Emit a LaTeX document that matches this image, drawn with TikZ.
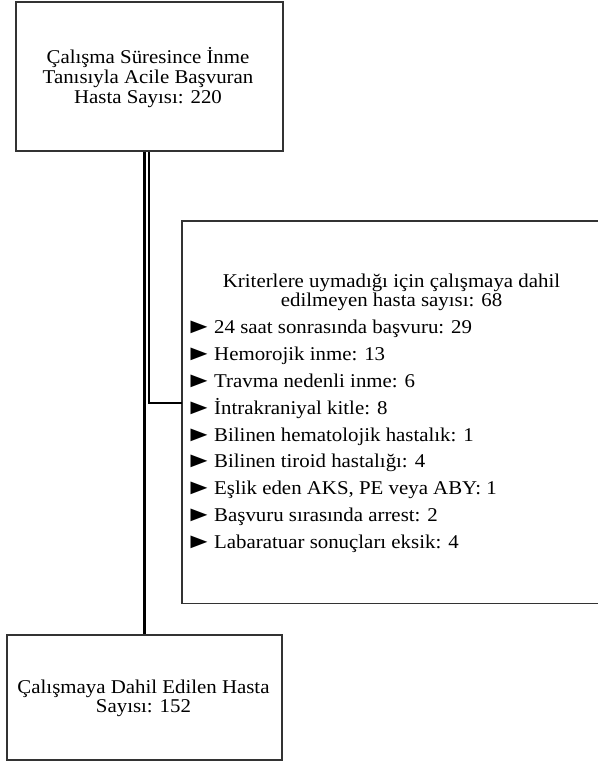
\documentclass[tikz,border=0pt]{standalone}
\usepackage{fontspec}
\setmainfont{Liberation Serif}[FakeStretch=1.07]
\begin{document}
\begin{tikzpicture}[x=1pt,y=-1pt,
  boxframe/.style={draw=black!80,line width=1.4pt},
  linkline/.style={draw=black,line width=2.6pt},
  txt/.style={font=\fontsize{19.5}{20}\selectfont,inner sep=0pt,align=center},
  item/.style={font=\fontsize{19.5}{20}\selectfont,inner sep=0pt,anchor=base west}]
\useasboundingbox (0,0) rectangle (597,762);
% boxes
\node[boxframe,minimum width=267pt,minimum height=149pt,inner sep=0pt] (top) at (149.5,76.5) {};
\node[txt] (toptxt) at (148,77.5) {Çalışma Süresince İnme\\Tanısıyla Acile Başvuran\\Hasta Sayısı: 220};
\node[boxframe,minimum width=275pt,minimum height=125pt,inner sep=0pt] (bot) at (144.5,697.5) {};
\node[txt,font=\fontsize{19.5}{19}\selectfont] (bottxt) at (143.5,698) {Çalışmaya Dahil Edilen Hasta\\Sayısı: 152};
\node[minimum width=420pt,minimum height=382pt,inner sep=0pt] (excl) at (392,412) {};
\draw[boxframe] ([xshift=5pt]excl.north east) -- (excl.north west) -- (excl.south west) -- ([xshift=5pt]excl.south east);
\node[txt,font=\fontsize{19.5}{17}\selectfont] (head) at (391.5,292.5) {Kriterlere uymadığı için çalışmaya dahil\\edilmeyen hasta sayısı: 68};
\foreach \t [count=\i] in {24 saat sonrasında başvuru: 29, Hemorojik inme: 13, Travma nedenli inme: 6, İntrakraniyal kitle: 8, Bilinen hematolojik hastalık: 1, Bilinen tiroid hastalığı: 4, {Eşlik eden AKS, PE veya ABY: 1}, Başvuru sırasında arrest: 2, Labaratuar sonuçları eksik: 4}{
  \node[item] (b\i) at (185,{307+26.8*\i}) {\scalebox{1.35}[1.1]{►}};
  \node[item] (it\i) at (214,{307+26.8*\i}) {\t};
}
% connectors
\coordinate (ja) at (144.5,0);
\coordinate (jb) at (149.2,403);
\draw[linkline] (top.south -| ja) -- (bot.north -| ja);
\draw[linkline,line width=2.2pt] (top.south -| jb) -- (jb) -- (jb -| excl.west);
\end{tikzpicture}
\end{document}
